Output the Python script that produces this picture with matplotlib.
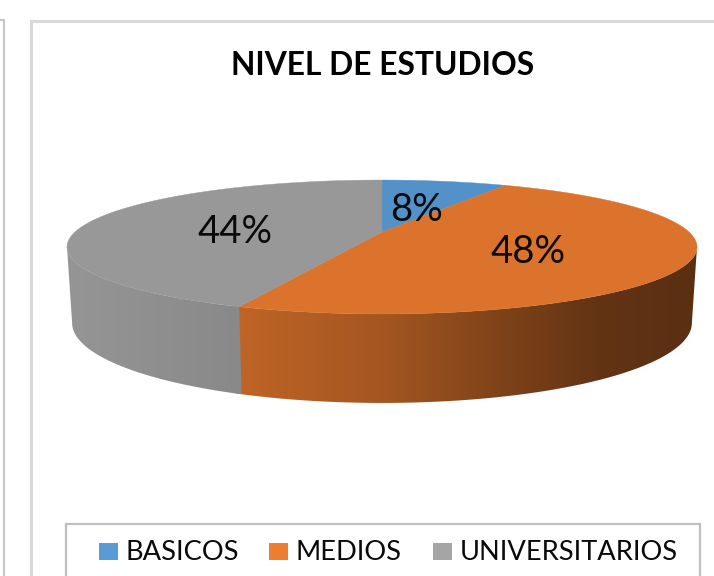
import numpy as np
import matplotlib
matplotlib.use("Agg")
import matplotlib.pyplot as plt
from matplotlib.patches import Polygon, Rectangle

categories = ["BASICOS", "MEDIOS", "UNIVERSITARIOS"]
shares = [8, 48, 44]
title = "NIVEL DE ESTUDIOS"

face_colors = ["#5392C9", "#DB732C", "#989898"]
legend_colors = ["#5B9BD5", "#ED7D31", "#A5A5A5"]
legend_marker_x = [99, 269, 433]

# perspective model of the disc, in pixel units of the canvas
CX, TOP_Y, BOT_Y = 382.0, 232.0, 305.0
A_TOP, A_BOT = 307.0, 302.0
B_TOP, B_BOT = 63.6, 76.0
K = 0.224


def project(theta_deg, r, cy, a, b):
    t = np.radians(theta_deg)
    u, v = r * np.sin(t), r * np.cos(t)
    w = 1 + K * v
    return CX + a * u / w, cy - b * v / w


def wall_shade(i, x):
    if i == 1:
        return np.interp(x, [243, 382, 500, 600, 692], [0.87, 0.75, 0.58, 0.45, 0.41])
    if i == 2:
        return np.interp(x, [72, 243], [0.98, 0.90])
    return np.full_like(x, 0.8)


fig = plt.figure(figsize=(7.14, 5.76), dpi=100)
ax = fig.add_axes([0, 0, 1, 1])
ax.axis("off")

# panel frames
frame = "#D9D9D9"
ax.plot([0, 4, 4], [20, 20, 576], color="#C8C8C8", lw=1.6, solid_joinstyle="miter")
ax.plot([31, 31, 714], [576, 20.5, 20.5], color=frame, lw=2.2, solid_joinstyle="miter")

# wedges
edges = np.concatenate([[0], np.cumsum(shares)]) * 360.0 / sum(shares)
wall_start = np.degrees(np.arccos(-K))
wall_end = 360 - wall_start

for i in range(len(shares)):
    # each wall runs a little under the next one, which hides the seam
    a0, a1 = max(edges[i], wall_start), min(edges[i + 1] + 1.0, wall_end)
    if a1 <= a0:
        continue
    th = np.linspace(a0, a1, 200)
    xt, yt = project(th, 1, TOP_Y, A_TOP, B_TOP)
    xb, yb = project(th[::-1], 1, BOT_Y, A_BOT, B_BOT)
    outline = np.column_stack([np.r_[xt, xb], np.r_[yt, yb]])
    xmin, xmax = outline[:, 0].min() - 2, outline[:, 0].max() + 2
    ymin, ymax = outline[:, 1].min() - 2, outline[:, 1].max() + 2
    xgrid = np.linspace(xmin, xmax, 400)
    base = np.array(matplotlib.colors.to_rgb(face_colors[i]))
    rgb = (base[None, :] * wall_shade(i, xgrid)[:, None])[None, :, :]
    clip = Polygon(outline, closed=True, transform=ax.transData, facecolor="none", edgecolor="none")
    ax.add_patch(clip)
    im = ax.imshow(rgb, extent=(xmin, xmax, ymax, ymin), aspect="auto", zorder=2 + i * 0.1,
                   interpolation="bilinear")
    im.set_clip_path(clip)

for i in range(len(shares)):
    th = np.linspace(edges[i], edges[i + 1], 200)
    xs, ys = project(th, 1, TOP_Y, A_TOP, B_TOP)
    pts = np.column_stack([np.r_[CX, xs], np.r_[TOP_Y, ys]])
    ax.add_patch(Polygon(pts, closed=True, facecolor=face_colors[i], edgecolor=face_colors[i], lw=0.3, zorder=3))

    mid = (edges[i] + edges[i + 1]) / 2
    lx, ly = project(mid, 0.5, TOP_Y, A_TOP, B_TOP)
    ax.text(lx + 0.5, ly + 6, f"{shares[i]}%", ha="center", va="center", family="Lato",
            fontsize=27.5, color="#0A0A0A", zorder=4)

ax.text(383, 65.5, title, ha="center", va="center", family="Lato", fontweight="bold",
        fontsize=22.9, color="#000000")

# legend
ax.plot([65.5, 65.5, 700, 700], [576, 524, 524, 576], color="#BFBFBF", lw=1.6, solid_joinstyle="miter")
for c, col, mx in zip(categories, legend_colors, legend_marker_x):
    ax.add_patch(Rectangle((mx, 543), 18.5, 17, facecolor=col, edgecolor="none"))
    ax.text(mx + 27, 552, c, ha="left", va="center", family="Lato", fontsize=19.6, color="#0A0A0A")

ax.set_xlim(0, 714)
ax.set_ylim(576, 0)
fig.savefig("out.png", dpi=100)
